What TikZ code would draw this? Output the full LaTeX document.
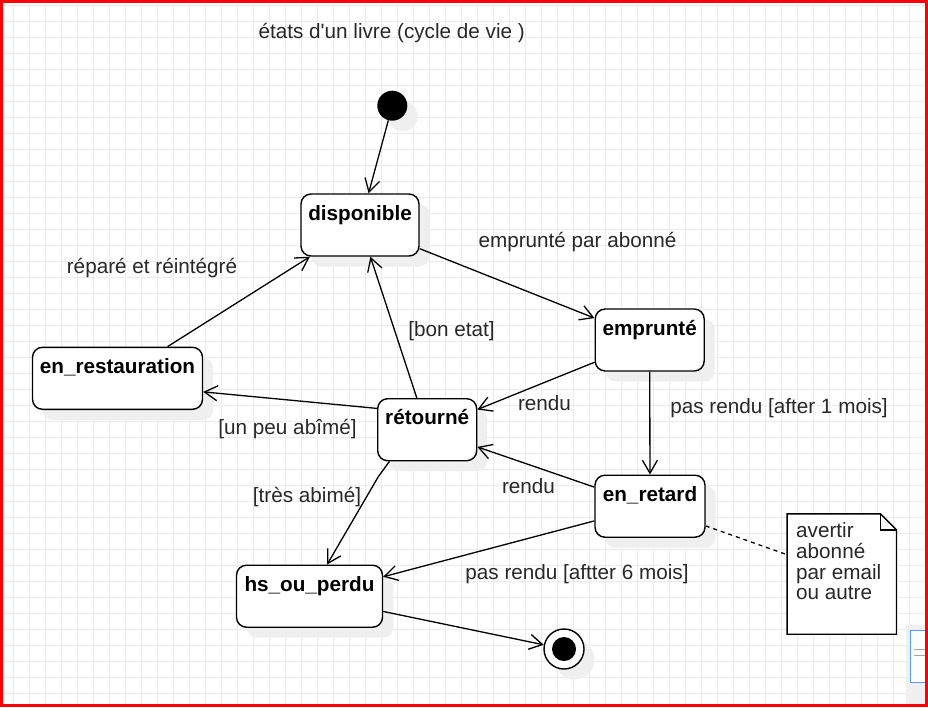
\documentclass[tikz,border=0pt]{standalone}
\usepackage{fontspec}
\setmainfont{Liberation Sans}[Ligatures=TeXOff]
\usetikzlibrary{arrows.meta,shadows,calc}
\definecolor{gridc}{RGB}{236,236,236}
\definecolor{labc}{RGB}{40,40,40}
\definecolor{shadc}{RGB}{239,239,239}
\definecolor{blueb}{RGB}{90,155,250}
\begin{document}
\begin{tikzpicture}[x=1pt,y=-1pt,
  shad/.style={drop shadow={shadow xshift=10.5pt,shadow yshift=-10.5pt,fill=shadc,opacity=1}},
  stbox/.style={draw, line width=1.4pt, rounded corners=10pt, fill=white, inner sep=0pt,
    text height=26pt, text depth=36pt, minimum height=62pt,
    font=\fontsize{20.7}{24}\selectfont\bfseries, shad},
  lab/.style={font=\fontsize{20.7}{24}\selectfont, text=labc, inner sep=0pt, anchor=base},
  trans/.style={line width=1.3pt, -{Straight Barb[length=13pt,width=15pt]}},
  notetxt/.style={font=\fontsize{20.7}{24}\selectfont, text=labc, inner sep=0pt, anchor=base west}
]
\useasboundingbox (0,0) rectangle (928,707);
\fill[white] (0,0) rectangle (928,707);
% grid
\foreach \x in {13.3,29.3,...,925}
  \draw[gridc, line width=0.8pt] (\x,0) -- (\x,707);
\foreach \y in {5,21,...,705}
  \draw[gridc, line width=0.8pt] (0,\y) -- (928,\y);

% title
\node[lab] (title) at (391.7,38) {états d'un livre (cycle de vie )};

% states
\node[circle, fill=black, minimum size=30pt, inner sep=0pt, shad] (init) at (392.3,105.7) {};
\node[stbox, minimum width=118pt] (disp) at (360,225) {disponible};
\node[stbox, minimum width=109pt] (empr) at (649.7,340) {emprunté};
\node[stbox, minimum width=170pt] (rest) at (117.5,378.3) {en\_restauration};
\node[stbox, minimum width=99pt] (ret) at (427.2,429.7) {rétourné};
\node[stbox, minimum width=110pt] (retard) at (650,506.2) {en\_retard};
\node[stbox, minimum width=146pt] (hs) at (309.5,596.2) {hs\_ou\_perdu};
\node[circle, draw, line width=1.4pt, fill=white, minimum size=40pt, inner sep=0pt, shad] (fin) at (564,649) {};
\node[circle, fill=black, minimum size=24pt, inner sep=0pt] (fincore) at (fin) {};

% note
\node[rectangle, minimum width=109pt, minimum height=120pt, inner sep=0pt] (note) at (841.8,574) {};
\draw[line width=1.4pt, fill=white] (note.north west) -- ($(note.north east)+(-16,0)$)
  -- ($(note.north east)+(0,16)$) -- (note.south east) -- (note.south west) -- cycle;
\draw[line width=1.4pt] ($(note.north east)+(-16,0)$) -- ($(note.north east)+(-16,16)$)
  -- ($(note.north east)+(0,16)$);
\node[notetxt] (nt1) at (796,537.7) {avertir};
\node[notetxt] (nt2) at (796,558.5) {abonné};
\node[notetxt] (nt3) at (796,579.2) {par email};
\node[notetxt] (nt4) at (796,599.9) {ou autre};

% transitions
\coordinate (bend) at (378.3,476.7);
\draw[trans] (init) -- (disp);
\draw[trans] (disp) -- (empr);
\draw[trans] (empr) -- (ret);
\draw[trans] (empr) -- (retard);
\draw[trans] (retard) -- (ret);
\draw[trans] (retard) -- (hs);
\draw[trans] (ret) -- (disp);
\draw[trans] (ret.157) -- (rest.-9);
\draw[trans] (rest) -- (disp);
\draw[trans] (ret.220) -- (bend) -- (hs.61);
\draw[trans] (hs) -- (fin);
\draw[line width=1.3pt, dash pattern=on 4pt off 4pt] (retard) -- (note);

% labels
\node[lab] (l1) at (577.5,247) {emprunté par abonné};
\node[lab] (l2) at (544.5,410) {rendu};
\node[lab] (l3) at (779,413) {pas rendu [after 1 mois]};
\node[lab] (l4) at (528.5,493) {rendu};
\node[lab] (l5) at (577,579) {pas rendu [aftter 6 mois]};
\node[lab] (l6) at (451.5,336) {[bon etat]};
\node[lab] (l7) at (287.5,434) {[un peu abîmé]};
\node[lab] (l8) at (152,273) {réparé et réintégré};
\node[lab] (l9) at (307,502) {[très abimé]};

% side widget
\fill[black!6] (905.7,625) rectangle (928,707);
\draw[blueb, line width=1pt, fill=white] (910.3,630) rectangle (932,682.3);
\draw[black!35, line width=0.8pt] (914,649) -- (925,649);
\draw[black!35, line width=0.8pt] (914,655) -- (925,655);

% frame
\draw[red, line width=2.6pt] (1.3,1.3) rectangle (926.7,705.7);
\end{tikzpicture}
\end{document}
